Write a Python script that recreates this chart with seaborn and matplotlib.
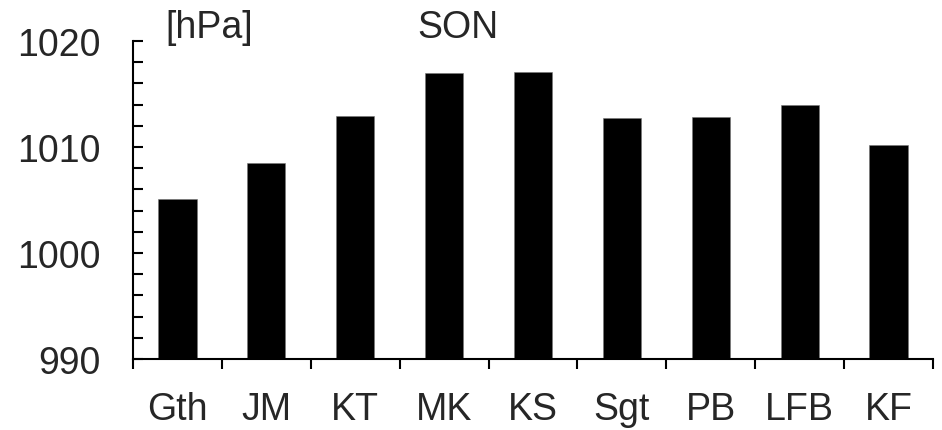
import matplotlib
matplotlib.use("Agg")
import matplotlib.pyplot as plt
from matplotlib.ticker import FixedLocator, MultipleLocator
import seaborn as sns
import pandas as pd

# Mean sea-level pressure by station, autumn (SON)
stations = ["Gth", "JM", "KT", "MK", "KS", "Sgt", "PB", "LFB", "KF"]
pressure = [1005.1, 1008.5, 1012.9, 1017.0, 1017.1, 1012.7, 1012.8, 1014.0, 1010.2]

df = pd.DataFrame({"station": stations, "pressure": pressure})

sns.set_style("white")
plt.rcParams["font.family"] = ["Liberation Sans", "DejaVu Sans"]

FS = 27

fig = plt.figure(figsize=(9.42, 4.31), dpi=100)
ax = fig.add_axes([0.1412, 0.1647, 0.8492, 0.7379])

sns.barplot(data=df, x="station", y="pressure", color="black", saturation=1,
            width=0.43, ax=ax, edgecolor="#777777", linewidth=0.4)

ax.set_ylim(990, 1020)
ax.set_xlim(-0.5, len(stations) - 0.5)
ax.set_xlabel("")
ax.set_ylabel("")

for side in ("top", "right"):
    ax.spines[side].set_visible(False)
for side in ("left", "bottom"):
    ax.spines[side].set_linewidth(1.5)
    ax.spines[side].set_color("black")

# y axis: labelled ticks every 10 hPa, minor ticks every 2 hPa, pointing inward
ax.yaxis.set_major_locator(MultipleLocator(10))
ax.yaxis.set_minor_locator(MultipleLocator(2))
ax.tick_params(axis="y", which="both", direction="in", length=7.5, width=1.5,
               color="black", left=True)
ax.tick_params(axis="y", which="major", labelsize=FS, pad=23)

# x axis: separators between stations, labels centred under bars
ax.xaxis.set_minor_locator(FixedLocator([i - 0.5 for i in range(len(stations) + 1)]))
ax.tick_params(axis="x", which="minor", direction="out", length=7.5, width=1.5,
               color="black", bottom=True)
ax.tick_params(axis="x", which="major", length=0, labelsize=FS, pad=23)

ax.text(0.04, 1.0126, "[hPa]", transform=ax.transAxes, fontsize=FS,
        ha="left", va="baseline")
ax.text(0.406, 1.0126, "SON", transform=ax.transAxes, fontsize=FS,
        ha="center", va="baseline")

fig.savefig("out.png", dpi=100)
